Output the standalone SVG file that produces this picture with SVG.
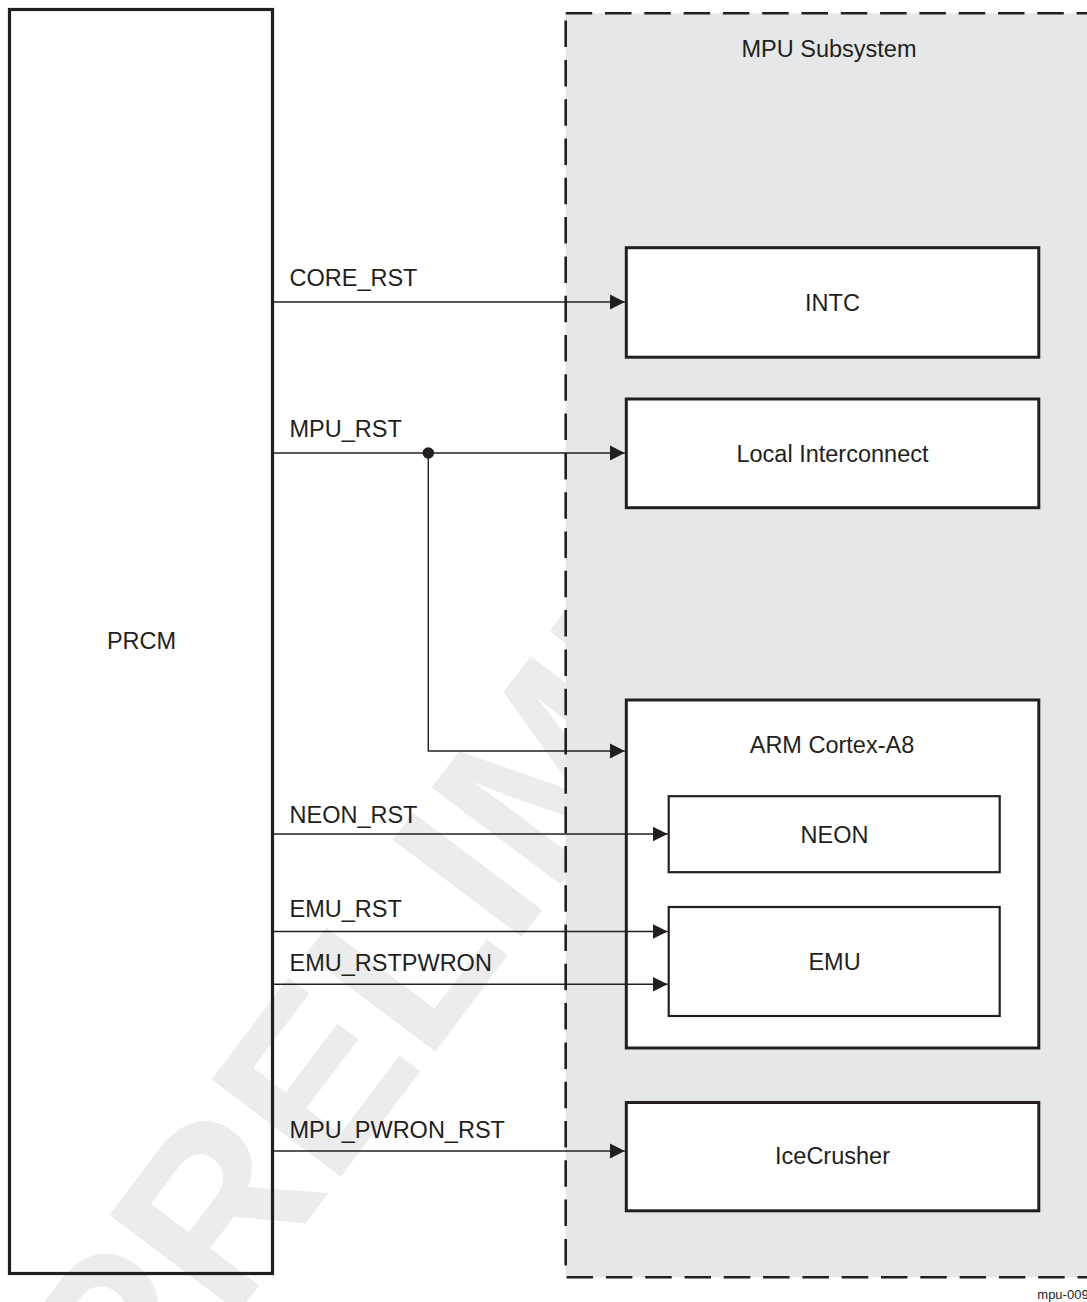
<svg xmlns="http://www.w3.org/2000/svg" width="1087" height="1302" viewBox="0 0 1087 1302">
<style>
text{font-family:"Liberation Sans",Arial,sans-serif;fill:#231f20;font-size:23.5px}
.c{text-anchor:middle}
.box{fill:#fff;stroke:#231f20;stroke-width:3}
.sub{fill:#fff;stroke:#231f20;stroke-width:2.2}
.wire{fill:none;stroke:#231f20;stroke-width:1.4}
.wm{font-family:"Liberation Sans",Arial,sans-serif;font-weight:bold;font-size:235px;fill:#ececec}
</style>
<defs>
<marker id="arr" markerUnits="userSpaceOnUse" markerWidth="16" markerHeight="16" refX="15" refY="8" orient="auto" viewBox="0 0 16 16">
<path d="M0,0.5 L15,8 L0,15.5 Z" fill="#231f20"/>
</marker>
</defs>
<rect width="1087" height="1302" fill="#fff"/>
<text class="wm" transform="translate(135,1450) rotate(-53)">PRELIMINARY</text>
<g id="mpu-subsystem">
<rect x="565.7" y="13.3" width="600" height="1264" fill="#e6e7e8" stroke="#231f20" stroke-width="2.6" stroke-dasharray="26.5 12.8"/>
<text class="c" x="829" y="57">MPU Subsystem</text>
</g>
<g id="prcm">
<rect x="9.5" y="9.5" width="263" height="1264" fill="none" stroke="#231f20" stroke-width="3.2"/>
<text class="c" x="141.5" y="649">PRCM</text>
</g>
<g id="intc">
<rect class="box" x="626.3" y="247.7" width="412.5" height="109.5"/>
<text class="c" x="832.5" y="311">INTC</text>
</g>
<g id="local-interconnect">
<rect class="box" x="626.3" y="399" width="412.5" height="108.7"/>
<text class="c" x="832.5" y="461.7">Local Interconnect</text>
</g>
<g id="arm-cortex-a8">
<rect class="box" x="626.3" y="700" width="412.5" height="348"/>
<text class="c" x="832" y="753.3">ARM Cortex-A8</text>
</g>
<g id="neon">
<rect class="sub" x="668.7" y="796.2" width="331" height="76"/>
<text class="c" x="834.5" y="842.7">NEON</text>
</g>
<g id="emu">
<rect class="sub" x="668.7" y="907" width="331" height="109"/>
<text class="c" x="834.5" y="970">EMU</text>
</g>
<g id="icecrusher">
<rect class="box" x="626.3" y="1102.5" width="412.5" height="108.3"/>
<text class="c" x="832.5" y="1164">IceCrusher</text>
</g>
<g id="connectors">
<path class="wire" d="M273,302 H624.8" marker-end="url(#arr)"/>
<path class="wire" d="M273,453 H624.8" marker-end="url(#arr)"/>
<path class="wire" d="M428.3,453 V751 H624.8" marker-end="url(#arr)"/>
<circle cx="428.3" cy="453" r="5.8" fill="#231f20"/>
<path class="wire" d="M273,834 H667.6" marker-end="url(#arr)"/>
<path class="wire" d="M273,931.5 H667.6" marker-end="url(#arr)"/>
<path class="wire" d="M273,984.3 H667.6" marker-end="url(#arr)"/>
<path class="wire" d="M273,1151 H624.8" marker-end="url(#arr)"/>
<text x="289.5" y="285.5">CORE_RST</text>
<text x="289.5" y="436.7">MPU_RST</text>
<text x="289.5" y="823">NEON_RST</text>
<text x="289.5" y="916.7">EMU_RST</text>
<text x="289.5" y="970.7">EMU_RSTPWRON</text>
<text x="289.5" y="1138">MPU_PWRON_RST</text>
</g>
<text x="1037.3" y="1299" style="font-size:13px">mpu-009</text>
</svg>
